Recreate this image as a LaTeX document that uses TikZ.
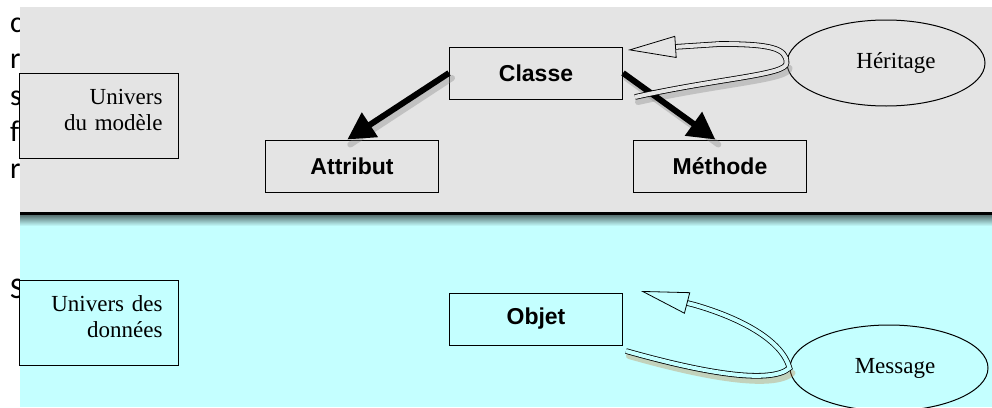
\documentclass[tikz,border=0pt]{standalone}
\usepackage{fontspec}
\setmainfont{Liberation Serif}
\setsansfont{Liberation Sans}
\newfontfamily\calib{Carlito}
\usetikzlibrary{arrows.meta, shapes.geometric}
\definecolor{fondgris}{HTML}{E4E4E4}
\definecolor{fondcyan}{HTML}{C4FFFF}

\begin{document}
\begin{tikzpicture}[x=1pt, y=-1pt,
		box/.style={draw, line width=1pt, minimum width=173pt, minimum height=52pt, inner sep=0pt,
			font=\sffamily\bfseries\fontsize{23}{26}\selectfont},
		univ/.style={draw, line width=1pt, anchor=north west, minimum width=159pt, minimum height=85pt,
			inner sep=0pt, text width=127pt, align=right, text depth=38pt, font=\fontsize{23}{26}\selectfont},
		bulle/.style={draw, ellipse, line width=1pt, minimum width=198pt, minimum height=86pt, inner sep=0pt,
			font=\fontsize{23}{26}\selectfont},
		lettre/.style={anchor=base west, inner sep=0pt, font=\calib\fontsize{30}{36}\selectfont},
		fleche/.style={line width=6pt, -{Triangle[length=27pt, width=28pt]}},
		boucle/.style={double=#1, double distance=4pt, line width=0.8pt,
			-{Triangle[length=48pt, width=22pt, fill=#1]}},
		ombre/.style={line width=6pt, line cap=round, #1, opacity=0.35,
			transform canvas={xshift=3pt, yshift=-5pt}}]
	\useasboundingbox (0, 0) rectangle (992, 407);
	\fill[white] (0, 0) rectangle (992, 407);
	\foreach \l/\y [count=\i] in {c/32, r/68.6, s/105, f/141.5, r/178, S/298}
		\node[lettre] (lettre\i) at (10, \y) {\l};
	\fill[fondgris] (20, 7) rectangle (992, 213);
	\fill[fondcyan] (20, 214) rectangle (992, 407);
	\shade[top color=black!60!fondcyan, bottom color=fondcyan] (20, 214) rectangle (992, 226);
	\draw[line width=3pt] (20, 213) -- (992, 213);

	\node[univ] (modele) at (19, 73) {Univers\\du modèle};
	\node[univ] (donnees) at (19, 280) {Univers des\\données};
	\node[box] (classe) at (536, 73) {Classe};
	\node[box] (attribut) at (352, 166) {Attribut};
	\node[box] (methode) at (720, 166) {Méthode};
	\node[box] (objet) at (536, 319) {Objet};
	\node[bulle] (heritage) at (886, 63) {\hspace*{20pt}Héritage};
	\node[bulle] (message) at (889, 368) {\hspace*{12pt}Message};

	\coordinate (hqueue) at (635, 97);
	\coordinate (hpointe) at (628, 50);
	\coordinate (mqueue) at (626, 351);
	\coordinate (mpointe) at (641, 291);

	\draw[ombre=gray] (classe.west) -- (attribut.100);
	\draw[ombre=gray] (classe.east) -- (methode.100);
	\draw[ombre=gray] (hqueue) .. controls (720, 78) and (787, 75) .. (heritage.west);
	\draw[ombre=brown] (mqueue) .. controls (700, 372) and (770, 385) .. (message.west);

	\draw[fleche] (classe.west) -- (attribut.100);
	\draw[fleche] (classe.east) -- (methode.100);
	\draw[boucle=fondgris] (hqueue) .. controls (720, 78) and (787, 75) .. (heritage.west)
		.. controls (787, 48) and (770, 44) .. (720, 44) -- (hpointe);
	\draw[boucle=fondcyan] (mqueue) .. controls (700, 372) and (770, 385) .. (message.west)
		.. controls (782, 340) and (740, 318) .. (695, 305) -- (mpointe);
\end{tikzpicture}
\end{document}
